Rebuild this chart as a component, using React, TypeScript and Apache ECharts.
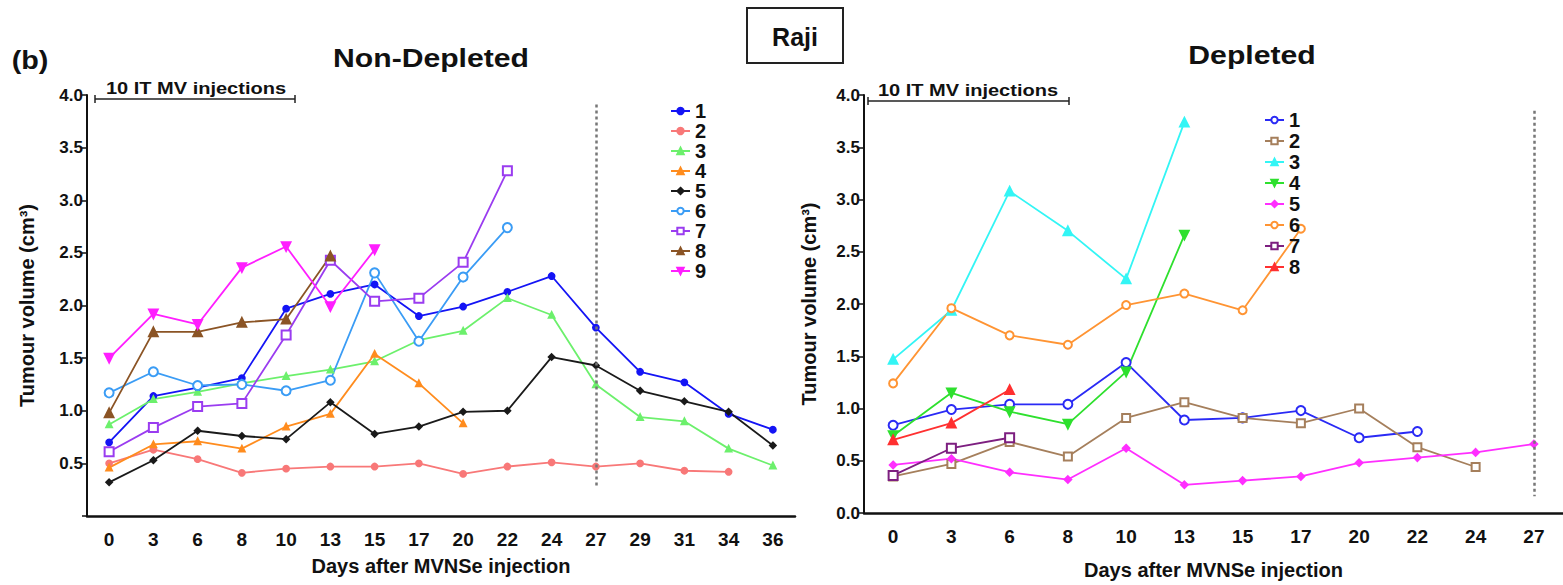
import React, { useEffect, useRef } from "react";
import * as echarts from "echarts";

const leftDays = ["0", "3", "6", "8", "10", "13", "15", "17", "20", "22", "24", "27", "29", "31", "34", "36"];
const rightDays = ["0", "3", "6", "8", "10", "13", "15", "17", "20", "22", "24", "27"];

// Non-Depleted
const nd1 = [0.70, 1.14, 1.22, 1.31, 1.97, 2.11, 2.20, 1.90, 1.99, 2.13, 2.28, 1.79, 1.37, 1.27, 0.97, 0.82];
const nd2 = [0.50, 0.63, 0.54, 0.41, 0.45, 0.47, 0.47, 0.50, 0.40, 0.47, 0.51, 0.47, 0.50, 0.43, 0.42, null];
const nd3 = [0.87, 1.11, 1.18, 1.26, 1.33, 1.39, 1.47, 1.67, 1.76, 2.07, 1.91, 1.25, 0.94, 0.90, 0.64, 0.48];
const nd4 = [0.46, 0.68, 0.71, 0.64, 0.85, 0.97, 1.54, 1.26, 0.88, null, null, null, null, null, null, null];
const nd5 = [0.32, 0.53, 0.81, 0.76, 0.73, 1.08, 0.78, 0.85, 0.99, 1.00, 1.51, 1.43, 1.19, 1.09, 0.99, 0.67];
const nd6 = [1.17, 1.37, 1.24, 1.25, 1.19, 1.29, 2.31, 1.66, 2.27, 2.74, null, null, null, null, null, null];
const nd7 = [0.61, 0.84, 1.04, 1.07, 1.72, 2.43, 2.04, 2.07, 2.41, 3.28, null, null, null, null, null, null];
const nd8 = [0.98, 1.75, 1.75, 1.84, 1.87, 2.47, null, null, null, null, null, null, null, null, null, null];
const nd9 = [1.50, 1.92, 1.82, 2.36, 2.56, 1.99, 2.53, null, null, null, null, null, null, null, null, null];

// Depleted
const d1 = [0.84, 0.99, 1.04, 1.04, 1.44, 0.89, 0.91, 0.98, 0.72, 0.78, null, null];
const d2 = [0.35, 0.47, 0.68, 0.54, 0.91, 1.06, 0.91, 0.86, 1.00, 0.63, 0.44, null];
const d3 = [1.47, 1.94, 3.08, 2.70, 2.24, 3.74, null, null, null, null, null, null];
const d4 = [0.74, 1.15, 0.97, 0.85, 1.35, 2.66, null, null, null, null, null, null];
const d5 = [0.46, 0.52, 0.39, 0.32, 0.62, 0.27, 0.31, 0.35, 0.48, 0.53, 0.58, 0.66];
const d6 = [1.24, 1.96, 1.70, 1.61, 1.99, 2.10, 1.94, 2.72, null, null, null, null];
const d7 = [0.36, 0.62, 0.72, null, null, null, null, null, null, null, null, null];
const d8 = [0.70, 0.86, 1.18, null, null, null, null, null, null, null, null, null];

const leftNames = ["1", "2", "3", "4", "5", "6", "7", "8", "9"];
const rightNames = ["1", "2", "3", "4", "5", "6", "7", "8"];

const leftSeriesDefs = [
  { data: nd1, color: "#1414f5", symbol: "circle", size: 6, rot: 0 },
  { data: nd2, color: "#f87878", symbol: "circle", size: 6, rot: 0 },
  { data: nd3, color: "#6cf06c", symbol: "triangle", size: 6, rot: 0 },
  { data: nd4, color: "#ff8c1e", symbol: "triangle", size: 6, rot: 0 },
  { data: nd5, color: "#1a1a1a", symbol: "diamond", size: 6, rot: 0 },
  { data: nd6, color: "#3a9cf5", symbol: "emptyCircle", size: 9, rot: 0 },
  { data: nd7, color: "#9a3cf0", symbol: "emptyRect", size: 9, rot: 0 },
  { data: nd8, color: "#8b5425", symbol: "triangle", size: 9, rot: 0 },
  { data: nd9, color: "#ff1eff", symbol: "triangle", size: 9, rot: 180 },
];

const rightSeriesDefs = [
  { data: d1, color: "#2a2af5", symbol: "emptyCircle", size: 9, rot: 0 },
  { data: d2, color: "#a57f5c", symbol: "emptyRect", size: 8, rot: 0 },
  { data: d3, color: "#33f5f5", symbol: "triangle", size: 9, rot: 0 },
  { data: d4, color: "#2ee02e", symbol: "triangle", size: 9, rot: 180 },
  { data: d5, color: "#ff2eff", symbol: "diamond", size: 7, rot: 0 },
  { data: d6, color: "#ff9433", symbol: "emptyCircle", size: 8, rot: 0 },
  { data: d7, color: "#7d1f80", symbol: "emptyRect", size: 9, rot: 0 },
  { data: d8, color: "#ff3030", symbol: "triangle", size: 9, rot: 0 },
];

const FONT = "'Liberation Sans', Arial, sans-serif";

export default function App() {
  const ref = useRef<HTMLDivElement>(null);
  useEffect(() => {
    if (!ref.current) return;
    const chart = echarts.init(ref.current, undefined, { renderer: "svg" });

    const mkX = (gi: number, days: string[], nameGap: number) => ({
      type: "category",
      gridIndex: gi,
      data: days,
      boundaryGap: true,
      name: "Days after MVNSe injection",
      nameLocation: "middle",
      nameGap,
      nameTextStyle: { fontFamily: FONT, fontWeight: "bold", fontSize: 20, color: "#111" },
      axisLine: { lineStyle: { color: "#111", width: 2.5 } },
      axisTick: { alignWithLabel: true, length: 6, lineStyle: { color: "#111", width: 1.5 } },
      axisLabel: { fontFamily: FONT, fontWeight: "bold", fontSize: 19, color: "#111", margin: 14, interval: 0 },
      splitLine: { show: false },
    });
    const mkY = (gi: number, hideZero: boolean, nameGap: number) => ({
      type: "value",
      gridIndex: gi,
      min: 0,
      max: 4,
      interval: 0.5,
      name: "Tumour volume (cm³)",
      nameLocation: "middle",
      nameGap,
      nameTextStyle: { fontFamily: FONT, fontWeight: "bold", fontSize: 20, color: "#111" },
      axisLine: { show: true, lineStyle: { color: "#111", width: 2 } },
      axisTick: { show: true, length: 5, lineStyle: { color: "#111", width: 1.5 } },
      axisLabel: {
        fontFamily: FONT,
        fontWeight: "bold",
        fontSize: 17,
        color: "#111",
        margin: 4,
        formatter: (v: number) => (hideZero && v === 0 ? "" : v.toFixed(1)),
      },
      splitLine: { show: false },
    });

    const mkSeries = (defs: any[], names: string[], prefix: string, gi: number, mark: any) =>
      defs.map((d, i) => ({
        type: "line",
        name: prefix + names[i],
        xAxisIndex: gi,
        yAxisIndex: gi,
        data: d.data,
        symbol: d.symbol,
        symbolSize: d.size,
        symbolRotate: d.rot,
        showAllSymbol: true,
        connectNulls: false,
        lineStyle: { color: d.color, width: 1.8 },
        itemStyle: { color: d.color, borderColor: d.color, borderWidth: 1.8 },
        emphasis: { disabled: true },
        markLine: i === 0 ? mark : undefined,
      }));

    const dashed = (y1: number, y2: number) => ({
      silent: true,
      symbol: "none",
      label: { show: false },
      lineStyle: { color: "#777", type: [3, 3], width: 2.5 },
      data: [[{ coord: ["27", y1] }, { coord: ["27", y2] }]],
    });

    const legendCommon = {
      orient: "vertical",
      itemWidth: 19,
      itemHeight: 8,
      itemGap: 0,
      selectedMode: false,
      textStyle: { fontFamily: FONT, fontWeight: "bold", fontSize: 20, color: "#111" },
    };

    const titleText = (text: string, x: number, y: number, size: number, sx: number) => ({
      type: "text",
      x,
      y,
      scaleX: sx,
      style: { text, font: `bold ${size}px ${FONT}`, fill: "#111", align: "center", verticalAlign: "middle" },
    });

    const option: any = {
      animation: false,
      backgroundColor: "#fff",
      grid: [
        { left: 87, top: 95, width: 708, height: 421, containLabel: false },
        { left: 864, top: 95, width: 711, height: 422, containLabel: false },
      ],
      xAxis: [mkX(0, leftDays, 40), mkX(1, rightDays, 47)],
      yAxis: [mkY(0, true, 50), mkY(1, false, 45)],
      legend: [
        {
          ...legendCommon,
          left: 665,
          top: 96,
          data: leftNames.map((n) => "L" + n),
          formatter: (n: string) => n.slice(1),
        },
        {
          ...legendCommon,
          left: 1259,
          top: 105,
          itemGap: 1,
          data: rightNames.map((n) => "R" + n),
          formatter: (n: string) => n.slice(1),
        },
      ],
      series: [
        ...mkSeries(leftSeriesDefs, leftNames, "L", 0, dashed(3.91, 0.28)),
        ...mkSeries(rightSeriesDefs, rightNames, "R", 1, dashed(3.85, 0.16)),
      ],
      graphic: [
        titleText("(b)", 30, 61, 25, 1.15),
        titleText("Non-Depleted", 431, 58, 26, 1.16),
        titleText("Depleted", 1252, 55, 26, 1.16),
        { type: "rect", shape: { x: 747, y: 8, width: 96, height: 55 }, style: { fill: "#fff", stroke: "#222", lineWidth: 2 } },
        titleText("Raji", 795, 37, 25, 1.0),
        // left bracket
        { type: "line", shape: { x1: 95, y1: 99, x2: 295, y2: 99 }, style: { stroke: "#222", lineWidth: 1.5 } },
        { type: "line", shape: { x1: 95, y1: 95, x2: 95, y2: 103 }, style: { stroke: "#222", lineWidth: 1.5 } },
        { type: "line", shape: { x1: 295, y1: 95, x2: 295, y2: 103 }, style: { stroke: "#222", lineWidth: 1.5 } },
        titleText("10 IT MV injections", 196, 89, 16, 1.25),
        // right bracket
        { type: "line", shape: { x1: 868, y1: 101, x2: 1069, y2: 101 }, style: { stroke: "#222", lineWidth: 1.5 } },
        { type: "line", shape: { x1: 868, y1: 97, x2: 868, y2: 105 }, style: { stroke: "#222", lineWidth: 1.5 } },
        { type: "line", shape: { x1: 1069, y1: 97, x2: 1069, y2: 105 }, style: { stroke: "#222", lineWidth: 1.5 } },
        titleText("10 IT MV injections", 968, 91, 16, 1.25),
      ],
    };

    chart.setOption(option);
    return () => chart.dispose();
  }, []);

  return (
    <div
      ref={ref}
      style={{ position: "fixed", left: 0, top: 0, width: 1563, height: 585, background: "#fff" }}
    />
  );
}
